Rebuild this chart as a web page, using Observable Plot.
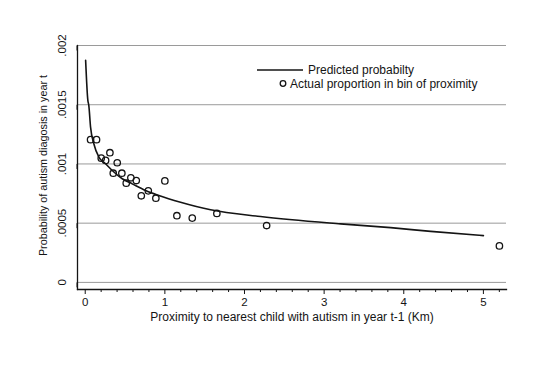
<!DOCTYPE html>
<html>
<head>
<meta charset="utf-8">
<script src="https://cdn.jsdelivr.net/npm/d3@7"></script>
<script src="https://cdn.jsdelivr.net/npm/@observablehq/plot@0.6"></script>
<style>
  html, body { margin: 0; padding: 0; background: #fff; }
  #chart { width: 555px; height: 365px; }
</style>
</head>
<body>
<div id="chart"></div>
<script>
// Predicted probability curve
const predX = [0.005, 0.033, 0.045, 0.067, 0.108, 0.171, 0.255, 0.339, 0.465, 0.590, 0.758, 0.925, 1.197, 1.574, 2.202, 3.207, 3.835, 4.338, 5.0];
const predY = [0.001876, 0.001537, 0.001495, 0.001311, 0.001171, 0.001058, 0.001002, 0.000945, 0.000875, 0.000832, 0.000776, 0.000734, 0.000677, 0.000613, 0.000556, 0.000494, 0.000462, 0.000431, 0.000395];

// Actual proportion in bin of proximity
const obsX = [0.067, 0.142, 0.201, 0.256, 0.310, 0.402, 0.352, 0.460, 0.515, 0.573, 0.641, 0.704, 0.792, 0.887, 1.000, 1.151, 1.344, 1.653, 2.278, 5.201];
const obsY = [0.001205, 0.001205, 0.001049, 0.001030, 0.001095, 0.001010, 0.000922, 0.000922, 0.000838, 0.000883, 0.000860, 0.000731, 0.000773, 0.000711, 0.000857, 0.000563, 0.000543, 0.000582, 0.000480, 0.000308];

const xTicks = [0, 1, 2, 3, 4, 5];
const xMinor = d3.range(0, 5.21, 0.2).filter(v => Math.abs(v - Math.round(v)) > 1e-6);
const yTicks = [0, 0.0005, 0.001, 0.0015, 0.002];
const yTickLabels = ["0", ".0005", ".001", ".0015", ".002"];

const xTitle = "Proximity to nearest child with autism in year t-1 (Km)";
const yTitle = "Probability of autism diagosis in year t";
const legendLabels = ["Predicted probabilty", "Actual proportion in bin of proximity"];

const pred = predX.map((x, i) => ({x, y: predY[i]}));
const obs = obsX.map((x, i) => ({x, y: obsY[i]}));

const ink = "#141414";
const font = "'Liberation Sans', Arial, Helvetica, sans-serif";

const chart = Plot.plot({
  width: 555,
  height: 365,
  marginLeft: 77,
  marginRight: 49,
  marginTop: 45,
  marginBottom: 76,
  style: {fontFamily: font, fontSize: "11.5px", color: ink, background: "#fff"},
  x: {domain: [-0.097, 5.29]},
  y: {domain: [-0.00006, 0.002]},
  marks: [
    Plot.ruleY(yTicks, {stroke: "#9a9a9a", strokeWidth: 1}),
    Plot.frame({anchor: "left", stroke: ink, strokeWidth: 1.3}),
    Plot.frame({anchor: "bottom", stroke: ink, strokeWidth: 1.3}),
    Plot.axisY({ticks: yTicks, tickSize: 5, tickPadding: 10, tickFormat: d => yTickLabels[yTicks.indexOf(d)],
      rotate: -90, textAnchor: "middle", lineAnchor: "middle", label: null, stroke: ink, fill: ink}),
    Plot.axisX({ticks: xTicks, tickSize: 5, tickPadding: 3, tickFormat: d => String(d), label: null, stroke: ink, fill: ink}),
    Plot.axisX({ticks: xMinor, tickSize: 3, tickFormat: () => "", label: null, stroke: ink}),
    Plot.text([xTitle], {frameAnchor: "bottom", dy: 28, textAnchor: "middle", lineAnchor: "middle", text: d => d, fill: ink, fontSize: 12}),
    Plot.text([yTitle], {frameAnchor: "left", dx: -34, dy: -2, rotate: -90, textAnchor: "middle", lineAnchor: "middle", text: d => d, fill: ink, fontSize: 10.8}),
    Plot.line(pred, {x: "x", y: "y", stroke: ink, strokeWidth: 1.6, curve: "monotone-x"}),
    Plot.dot(obs, {x: "x", y: "y", r: 3.2, stroke: ink, strokeWidth: 1.3, fill: "none"})
  ]
});

// Legend (no frame, top right inside plot)
const svg = d3.select(chart);
const lg = svg.append("g").attr("font-family", font).attr("font-size", 12).attr("fill", ink).attr("text-anchor", "start");
lg.append("line").attr("x1", 257).attr("x2", 303).attr("y1", 70).attr("y2", 70)
  .attr("stroke", ink).attr("stroke-width", 1.6);
lg.append("text").attr("x", 308).attr("y", 70).attr("dy", "0.35em").text(legendLabels[0]);
lg.append("circle").attr("cx", 283).attr("cy", 83.5).attr("r", 2.8)
  .attr("fill", "none").attr("stroke", ink).attr("stroke-width", 1.3);
lg.append("text").attr("x", 290).attr("y", 83.5).attr("dy", "0.35em").text(legendLabels[1]);

document.getElementById("chart").appendChild(chart);
</script>
</body>
</html>
